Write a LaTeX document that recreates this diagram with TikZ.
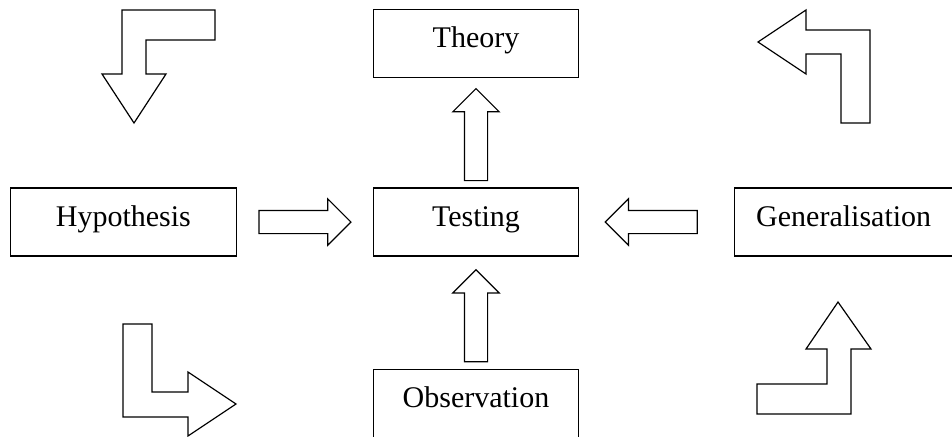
\documentclass[tikz,border=0pt]{standalone}
\usepackage{fontspec}
\setmainfont{Liberation Serif}
\usepackage{tikz}
\usetikzlibrary{positioning,calc,shapes.arrows}

\begin{document}
\begin{tikzpicture}[
  x=0.5pt, y=-0.5pt,
  box/.style={rectangle, draw, line width=0.6pt, inner sep=0pt, minimum width=102.5pt,
              text height=19pt, text depth=15pt, font=\fontsize{15pt}{18pt}\selectfont},
  fatarrow/.style={single arrow, draw, line width=0.6pt, inner xsep=0pt, inner ysep=5.5pt,
                   minimum height=46pt, minimum width=22.5pt,
                   single arrow head extend=5.75pt},
  fatup/.style={fatarrow, shape border rotate=90, inner xsep=5.5pt, inner ysep=0pt},
  bentarrow/.style={draw, line width=0.6pt, line join=miter}
]
\useasboundingbox (0,0) rectangle (952,436);

% the five boxes
\node[box] (test) at (476,222) {Testing};
\node[box, above=54.5pt of test] (theory) {Theory};
\node[box, below=56pt of test] (obs) {Observation};
\node[box, minimum width=113.3pt, left=67.8pt of test] (hyp) {Hypothesis};
\node[box, minimum width=109pt, right=77.5pt of test] (gen) {Generalisation};

% straight block arrows between the boxes
\node[fatarrow, xshift=-3pt] (hyp2test) at ($(hyp.east)!0.5!(test.west)$) {};
\node[fatarrow, shape border rotate=180, xshift=0.25pt] (gen2test) at ($(gen.west)!0.5!(test.east)$) {};
\node[fatup, yshift=-3.75pt] (test2theory) at ($(test.north)!0.5!(theory.south)$) {};
\node[fatup, yshift=-4.5pt] (obs2test) at ($(obs.north)!0.5!(test.south)$) {};

% bent arrows in the corners
\draw[bentarrow] (122,10) -- (215,10) -- (215,40) -- (146,40) -- (146,74) -- (166,74)
  -- (134,123) -- (102,74) -- (122,74) -- cycle;
\draw[bentarrow] (758,42) -- (806,10) -- (806,30) -- (870,30) -- (870,123) -- (841,123)
  -- (841,54) -- (806,54) -- (806,74) -- cycle;
\draw[bentarrow] (123,324) -- (152,324) -- (152,392) -- (188,392) -- (188,372) -- (236,404)
  -- (188,436) -- (188,417) -- (123,417) -- cycle;
\draw[bentarrow] (838,302) -- (871,349) -- (851,349) -- (851,414) -- (757,414) -- (757,384)
  -- (827,384) -- (827,349) -- (806,349) -- cycle;
\end{tikzpicture}
\end{document}
